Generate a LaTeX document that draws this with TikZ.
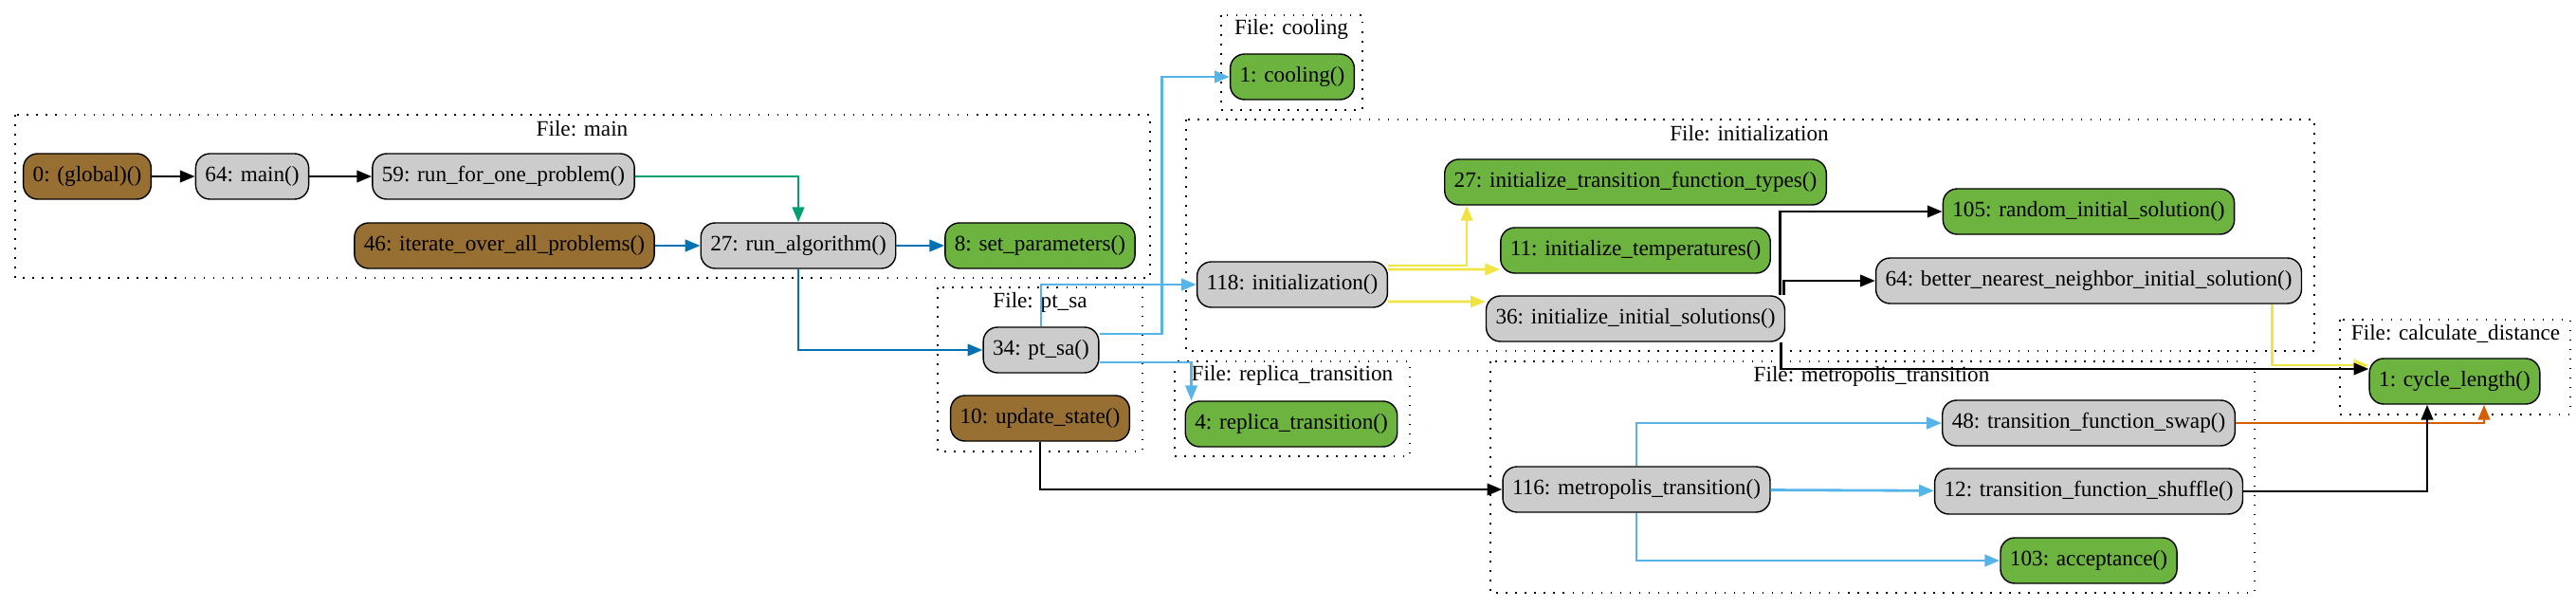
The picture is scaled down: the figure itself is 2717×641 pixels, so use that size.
\documentclass[tikz,border=0pt]{standalone}
\usepackage{fontspec}
\setmainfont{Liberation Serif}
\usetikzlibrary{arrows.meta}
\definecolor{marrone}{HTML}{986F32}
\definecolor{verde}{HTML}{6CB33F}
\definecolor{grigio}{HTML}{CCCCCC}
\definecolor{blu}{HTML}{0072B2}
\definecolor{celeste}{HTML}{56B4E9}
\definecolor{verdeacqua}{HTML}{009E73}
\definecolor{giallo}{HTML}{F0E442}
\definecolor{arancio}{HTML}{D55E00}
\tikzstyle{fun} = [rectangle, rounded corners=0.3cm, minimum height=0.96cm, inner xsep=0.2cm, text centered, draw=black, line width=0.8pt, fill=grigio, font=\fontsize{13.2}{15}\selectfont]
\tikzstyle{funverde} = [fun, fill=verde]
\tikzstyle{funmarrone} = [fun, fill=marrone]
\tikzstyle{cluster} = [line width=0.9pt, dash pattern=on 0.9pt off 4.8pt]
\tikzstyle{etichetta} = [font=\fontsize{13.2}{15}\selectfont]
\tikzstyle{arrow} = [line width=1.6pt, -{Triangle[length=9pt,width=7pt]}]

\begin{document}
\begin{tikzpicture}[x=0.02cm, y=-0.02cm]
\useasboundingbox (0,0) rectangle (2717,641);
% file boxes
\draw[cluster] (16,121) rectangle (1213,293);
\node (lmain) at (614,136) [etichetta] {File: main};
\draw[cluster] (1288,16) rectangle (1437,116);
\node (lcool) at (1362,31) [etichetta] {File: cooling};
\draw[cluster] (1251,126) rectangle (2441,370);
\node (linit) at (1845,141) [etichetta] {File: initialization};
\draw[cluster] (989,303) rectangle (1205,476);
\node (lptsa) at (1097,319) [etichetta] {File: pt\_sa};
\draw[cluster] (1239,381) rectangle (1487,481);
\node (lrepl) at (1363,396) [etichetta] {File: replica\_transition};
\draw[cluster] (2468,337) rectangle (2711,437);
\node (ldist) at (2590,352) [etichetta] {File: calculate\_distance};
\draw[cluster] (1572,381) rectangle (2378,625);
\node (lmetro) at (1974,397) [etichetta] {File: metropolis\_transition};
% functions
\node (glob) at (92,186) [funmarrone] {0: (global)()};
\node (main) at (266,186) [fun] {64: main()};
\node (runone) at (531,186) [fun] {59: run\_for\_one\_problem()};
\node (iter) at (532,259) [funmarrone] {46: iterate\_over\_all\_problems()};
\node (runalg) at (842,259) [fun] {27: run\_algorithm()};
\node (setpar) at (1097,259) [funverde] {8: set\_parameters()};
\node (cool) at (1363,81) [funverde] {1: cooling()};
\node (ptsa) at (1098,369) [fun] {34: pt\_sa()};
\node (upd) at (1097,441) [funmarrone] {10: update\_state()};
\node (repl) at (1362,447) [funverde] {4: replica\_transition()};
\node (init) at (1363,300) [fun] {118: initialization()};
\node (inittf) at (1725,192) [funverde] {27: initialize\_transition\_function\_types()};
\node (inittemp) at (1725,264) [funverde] {11: initialize\_temperatures()};
\node (initsol) at (1725,336) [fun] {36: initialize\_initial\_solutions()};
\node (random) at (2203,223) [funverde] {105: random\_initial\_solution()};
\node (better) at (2203,296) [fun] {64: better\_nearest\_neighbor\_initial\_solution()};
\node (cyc) at (2589,402) [funverde] {1: cycle\_length()};
\node (metro) at (1726,516) [fun] {116: metropolis\_transition()};
\node (swap) at (2203,446) [fun] {48: transition\_function\_swap()};
\node (shuffle) at (2203,518) [fun] {12: transition\_function\_shuffle()};
\node (accept) at (2203,591) [funverde] {103: acceptance()};
% calls
\draw [arrow] (glob) -- (main);
\draw [arrow] (main) -- (runone);
\draw [arrow, verdeacqua] (runone) -| (runalg);
\draw [arrow, blu] (iter) -- (runalg);
\draw [arrow, blu] (runalg) -- (setpar);
\draw [arrow, blu] (runalg) |- (ptsa);
\draw [arrow, celeste] ([yshift=.34cm]ptsa.east) -- ++(1.32cm,0) |- (cool);
\draw [arrow, celeste] (ptsa.north) |- (init);
\draw [arrow, celeste] ([yshift=-.26cm]ptsa.east) -| ([xshift=.14cm]repl.north west);
\draw [arrow] (upd) |- (metro);
\draw [arrow, giallo] ([yshift=.4cm]init.east) -| ([xshift=.48cm]inittf.south west);
\draw [arrow, giallo] ([yshift=.32cm]init.east) -- ([yshift=-.4cm]inittemp.west);
\draw [arrow, giallo] ([yshift=-.36cm]init.east) -- ([yshift=.36cm]initsol.west);
\draw [arrow] ([xshift=-.12cm]initsol.north east) |- (random);
\draw [arrow] ([xshift=-.04cm]initsol.north east) |- (better);
\draw [arrow, giallo] ([xshift=-.64cm]better.south east) |- ([yshift=.34cm]cyc.west);
\draw [arrow] ([xshift=-.1cm]initsol.south east) |- ([yshift=.26cm]cyc.west);
\draw [arrow, celeste] (metro.north) |- (swap);
\draw [arrow, celeste] (metro) -- (shuffle);
\draw [arrow, celeste] (metro.south) |- (accept);
\draw [arrow, arancio] (swap) -| ([xshift=.62cm]cyc.south);
\draw [arrow] (shuffle) -| ([xshift=-.58cm]cyc.south);
\end{tikzpicture}
\end{document}
